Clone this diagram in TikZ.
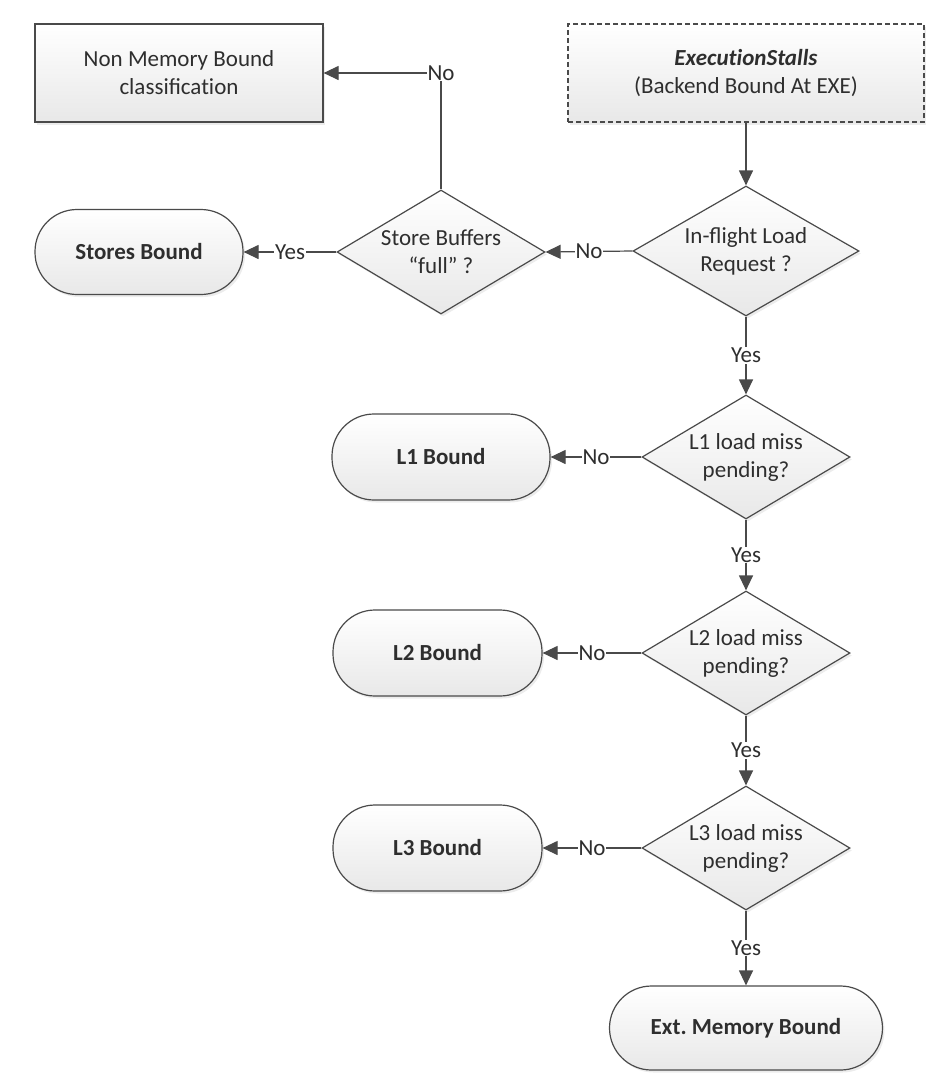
\documentclass[tikz,border=0pt]{standalone}
\usepackage{fontspec}
\setmainfont{Carlito}
\usetikzlibrary{shapes.geometric,arrows.meta,shadows}
\definecolor{ln}{HTML}{4A4A4A}
\definecolor{tx}{HTML}{2E2E2E}
\frenchspacing
\begin{document}
\begin{tikzpicture}[x=1pt,y=1pt,
 font=\fontsize{23}{28}\selectfont, text=tx,
 base/.style={draw=ln, line width=1.2pt, top color=white, bottom color=black!9,
   drop shadow={shadow xshift=2pt,shadow yshift=-2.5pt,opacity=0.15},
   align=center, inner sep=0pt},
 box/.style={base, rectangle},
 term/.style={base, rectangle, rounded corners=42pt, font=\fontsize{23}{28}\selectfont\bfseries},
 dec/.style={base, diamond, aspect=1.7},
 arr/.style={draw=ln, line width=1.2pt, -{Triangle[length=15pt,width=14pt]}},
 lbl/.style={fill=white, inner sep=1pt, text=tx}]
\useasboundingbox (0,0) rectangle (942,-1082);

\node[box, minimum width=288pt, minimum height=98pt] (nonmem) at (179,-73) {Non Memory Bound\\classificat\kern0pt ion};
\node[box, dash pattern=on 5pt off 3pt, minimum width=356pt, minimum height=98pt] (exec) at (746,-73) {\textbf{\textit{Execut\kern0pt ionStalls}}\\(Backend Bound At EXE)};

\node[dec, minimum width=208pt, minimum height=124pt] (store) at (441,-252) {Store Buffers\\“full” ?};
\node[dec, minimum width=226pt, minimum height=130pt] (inflight) at (746,-251) {In-flight Load\\Request ?};
\node[dec, minimum width=208pt, minimum height=124pt] (l1d) at (746,-457) {L1 load miss\\pending?};
\node[dec, minimum width=208pt, minimum height=124pt] (l2d) at (746,-653) {L2 load miss\\pending?};
\node[dec, minimum width=208pt, minimum height=124pt] (l3d) at (746,-848) {L3 load miss\\pending?};

\node[term, minimum width=208pt, minimum height=85pt] (stores) at (139,-252) {Stores Bound};
\node[term, minimum width=218pt, minimum height=86pt] (l1) at (441,-457) {L1 Bound};
\node[term, minimum width=209pt, minimum height=86pt] (l2) at (437.5,-653) {L2 Bound};
\node[term, minimum width=209pt, minimum height=86pt] (l3) at (437.5,-848) {L3 Bound};
\node[term, minimum width=273pt, minimum height=84pt] (ext) at (746,-1028) {Ext. Memory Bound};

\draw[arr] (exec.south) -- (inflight.north);
\draw[arr] (inflight.west) -- node[lbl]{No} (store.east);
\draw[arr] (store.west) -- node[lbl]{Yes} (stores.east);
\draw[arr] (store.north) |- node[lbl, pos=0.5]{No} (nonmem.east);
\draw[arr] (inflight.south) -- node[lbl]{Yes} (l1d.north);
\draw[arr] (l1d.west) -- node[lbl]{No} (l1.east);
\draw[arr] (l1d.south) -- node[lbl]{Yes} (l2d.north);
\draw[arr] (l2d.west) -- node[lbl]{No} (l2.east);
\draw[arr] (l2d.south) -- node[lbl]{Yes} (l3d.north);
\draw[arr] (l3d.west) -- node[lbl]{No} (l3.east);
\draw[arr] (l3d.south) -- node[lbl]{Yes} (ext.north);
\end{tikzpicture}
\end{document}
